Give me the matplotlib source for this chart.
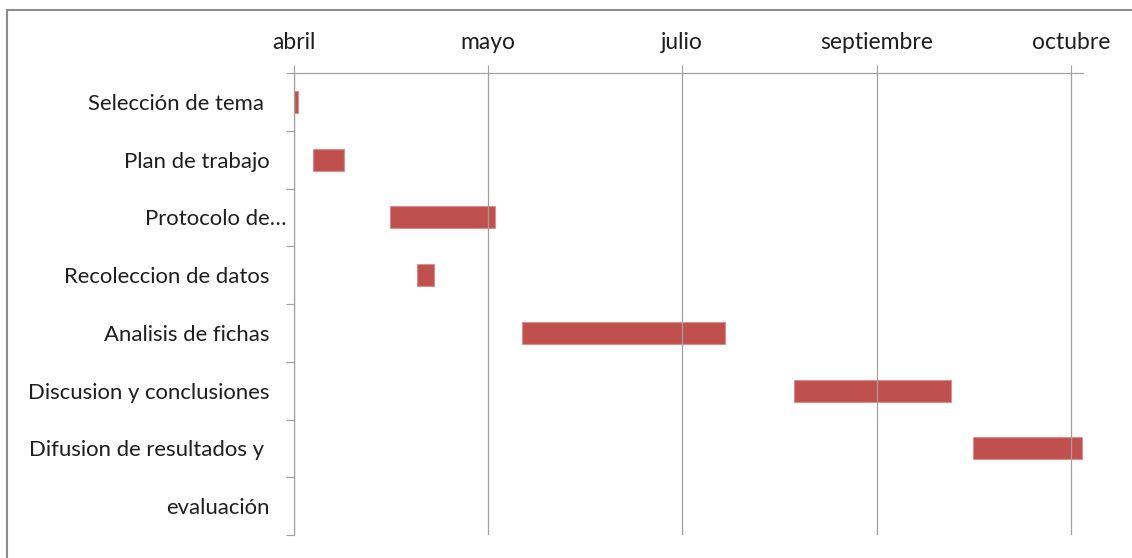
import matplotlib
matplotlib.use('Agg')
import matplotlib.pyplot as plt
import matplotlib.transforms as mtransforms
from matplotlib.patches import Rectangle
import numpy as np

tasks = ["Selección de tema ", "Plan de trabajo", "Protocolo de…",
         "Recoleccion de datos", "Analisis de fichas",
         "Discusion y conclusiones", "Difusion de resultados y ", "evaluación"]
start_days = [0.0, 5.3, 25.9, 33.1, 61.2, 134.0, 181.8, np.nan]
duration_days = [1.2, 8.2, 28.1, 4.4, 54.2, 41.8, 29.1, np.nan]
month_ticks = [0, 52, 104, 156, 208]
month_labels = ["abril", "mayo", "julio", "septiembre", "octubre"]

W, H, DPI = 1132, 558, 100
fig = plt.figure(figsize=(W / DPI, H / DPI), dpi=DPI)
plt.rcParams['font.family'] = ['Lato', 'DejaVu Sans']

ax = fig.add_axes([293.5 / W, 1 - 535 / H, (1083 - 293.5) / W, (535 - 73) / H])

grey = '#a0a0a0'
txt = '#1e1e1e'
fs_y = 15.9
fs_x = 16.5

y = np.arange(len(tasks))
ax.barh(y, duration_days, left=start_days, height=0.38, color='#C0504D',
        edgecolor='#d98f8d', linewidth=0.8)

ax.set_xlim(0, 211.2)
ax.set_ylim(len(tasks) - 0.5, -0.5)

ax.xaxis.tick_top()
ax.set_xticks(month_ticks, month_labels)
ax.tick_params(axis='x', which='major', length=5.8, width=0.8, color=grey,
               pad=8.5, labelsize=fs_x, labelcolor=txt)

ax.set_yticks(y, tasks)
ax.set_yticks(np.arange(-0.5, len(tasks) + 0.5, 1), minor=True)
ax.tick_params(axis='y', which='major', length=0, pad=17.3, labelsize=fs_y,
               labelcolor=txt)
ax.tick_params(axis='y', which='minor', length=5.8, width=0.8, color=grey)

ax.grid(axis='x', color=grey, linewidth=0.9)

for s in ['right', 'bottom']:
    ax.spines[s].set_visible(False)
for s in ['top', 'left']:
    ax.spines[s].set_color(grey)
    ax.spines[s].set_linewidth(0.9)

# Truncated label sits further right (as in the original)
lbl = ax.get_yticklabels()[2]
off = mtransforms.ScaledTranslation(17 / DPI, 0, fig.dpi_scale_trans)
lbl.set_transform(lbl.get_transform() + off)

# Outer chart border (right/bottom edges fall outside the image)
border = Rectangle((7 / W, -0.1), 1.2, 1 - 10 / H + 0.1, transform=fig.transFigure,
                   fill=False, edgecolor='#8c8c8c', linewidth=1.5, clip_on=False)
fig.patches.append(border)

fig.savefig('out.png', dpi=DPI)
